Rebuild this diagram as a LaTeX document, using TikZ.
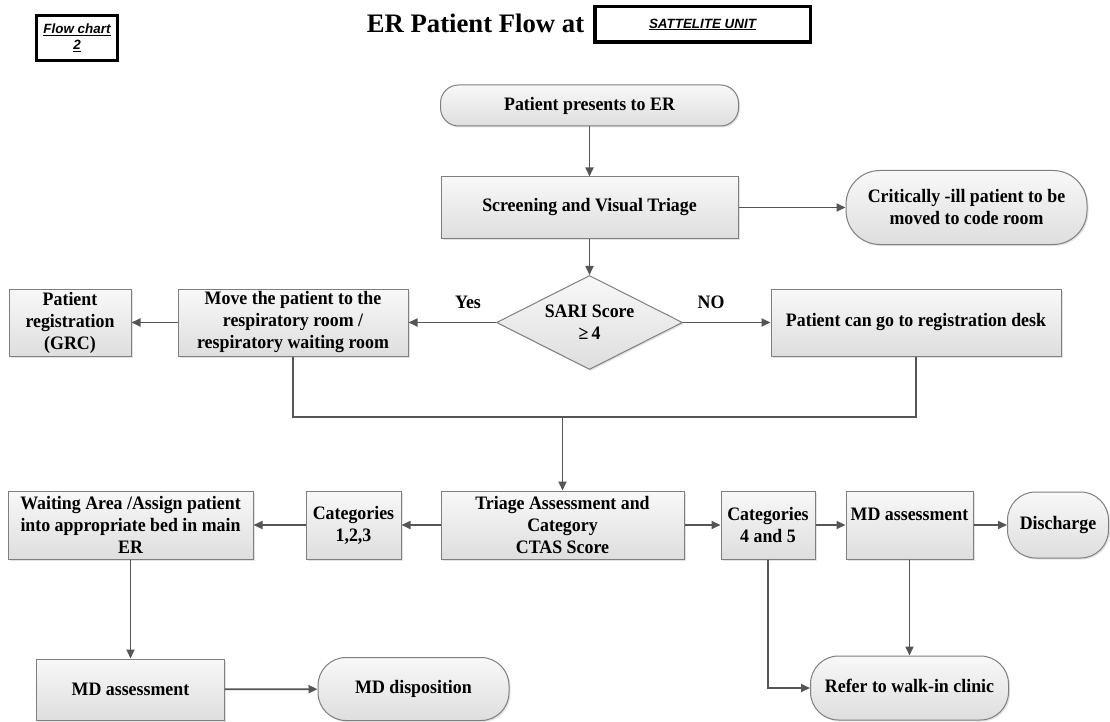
\documentclass[tikz,border=0pt]{standalone}
\usepackage{fontspec}
\setmainfont{Liberation Serif}
\newfontfamily\boxfont{Liberation Serif}[FakeStretch=0.94]
\newfontfamily\tagfont{Liberation Sans}
\usetikzlibrary{arrows.meta,shapes.geometric,shadows}

\definecolor{edgegray}{HTML}{7F7F7F}
\definecolor{linegray}{HTML}{555555}
\definecolor{filltop}{HTML}{F8F8F8}
\definecolor{fillbot}{HTML}{DEDEDE}

\tikzset{
  boxtext/.style={font=\boxfont\bfseries\fontsize{19}{22}\selectfont, align=center},
  base/.style={boxtext, draw=edgegray, line width=1pt, top color=filltop,
    bottom color=fillbot, inner sep=0pt,
    drop shadow={shadow xshift=1.5pt, shadow yshift=-1.5pt, opacity=0.22}},
  proc/.style={base, rectangle},
  term/.style={base, rectangle, rounded corners=#1},
  term/.default=18pt,
  decision/.style={base, diamond},
  sz/.style 2 args={minimum width=#1pt, minimum height=#2pt},
  flow/.style={draw=linegray, line width=1.7pt},
  arr/.style={flow, -{Triangle[length=9pt,width=8pt]}},
  framed/.style={draw=black, inner sep=0pt, align=center,
    font=\tagfont\bfseries\itshape\fontsize{13.4}{16}\selectfont},
}

\begin{document}
\begin{tikzpicture}[x=1pt, y=-1pt]
\useasboundingbox (0,0) rectangle (1110,722);
\fill[white] (0,0) rectangle (1110,722);

% heading
\node[framed, line width=3pt, sz={81}{45}] (fc) at (77,38) {\underline{Flow chart}\\\underline{2}};
\node[font=\bfseries\fontsize{26.7}{32}\selectfont, anchor=base, inner sep=0pt] (title) at (475.5,33) {ER Patient Flow at};
\node[framed, line width=3.5pt, sz={215.5}{35.5}] (unit) at (702.5,24.5) {\underline{SATTELITE UNIT}};

% arrival and screening
\node[term=18pt, sz={298}{41}] (pres) at (589.5,105.5) {Patient presents to ER};
\node[proc, sz={297}{61}] (screen) at (589.5,207.5) {Screening and Visual Triage};
\node[term=34pt, sz={241}{74}] (code) at (966.5,207.5) {Critically -ill patient to be\\moved to code room};

% SARI decision
\node[decision, sz={186}{94}] (sari) at (589.5,322.5) {};
\node[boxtext, inner sep=0pt] (saritxt) at (sari) {SARI Score\\≥\,4};
\node[proc, sz={230}{67}] (move) at (293,322.5) {Move the patient to the\\respiratory room /\\respiratory waiting room};
\node[proc, sz={122}{67}] (reg) at (70,322.5) {Patient\\registration\\(GRC)};
\node[proc, sz={290}{67}] (desk) at (916,322.5) {Patient can go to registration desk};
\node[boxtext] (yes) at (468,302) {Yes};
\node[boxtext] (no) at (711,302) {NO};

% triage row
\node[proc, sz={243}{68}] (triage) at (562.5,525) {Triage Assessment and\\Category\\CTAS Score};
\node[proc, sz={95}{68}] (cat1) at (353.5,525) {Categories\\1,2,3};
\node[proc, sz={245}{68}] (wait) at (130.5,525) {Waiting Area /Assign patient\\into appropriate bed in main\\ER};
\node[proc, sz={94}{68}] (cat4) at (768,525) {Categories\\4 and 5};
\node[proc, sz={127}{68}] (mdr) at (909.5,525) {MD assessment\\\mbox{}};
\node[term=28pt, sz={101}{66}] (dis) at (1058,525) {Discharge};

% outcomes
\node[proc, sz={188}{61}] (mdl) at (130.5,689.5) {MD assessment};
\node[term=28pt, sz={191}{63}] (disp) at (413.5,689) {\strut MD disposition};
\node[term=28pt, sz={198}{64}] (refer) at (909.5,688) {\strut Refer to walk-in clinic};

% connectors
\draw[arr] (pres) -- (screen);
\draw[arr] (screen) -- (code);
\draw[arr] (screen) -- (sari);
\draw[arr] (sari) -- (move);
\draw[arr] (move) -- (reg);
\draw[arr] (sari) -- (desk);
\coordinate (join) at (562.5,417);
\draw[flow] (move.south) |- (join) -| (desk.south);
\draw[arr] (join) -- (triage);
\draw[arr] (triage) -- (cat1);
\draw[arr] (cat1) -- (wait);
\draw[arr] (wait) -- (mdl);
\draw[arr] (mdl) -- (disp);
\draw[arr] (triage) -- (cat4);
\draw[arr] (cat4) -- (mdr);
\draw[arr] (mdr) -- (dis);
\draw[arr] (mdr) -- (refer);
\draw[arr] (cat4.south) |- (refer.west);
\end{tikzpicture}
\end{document}
